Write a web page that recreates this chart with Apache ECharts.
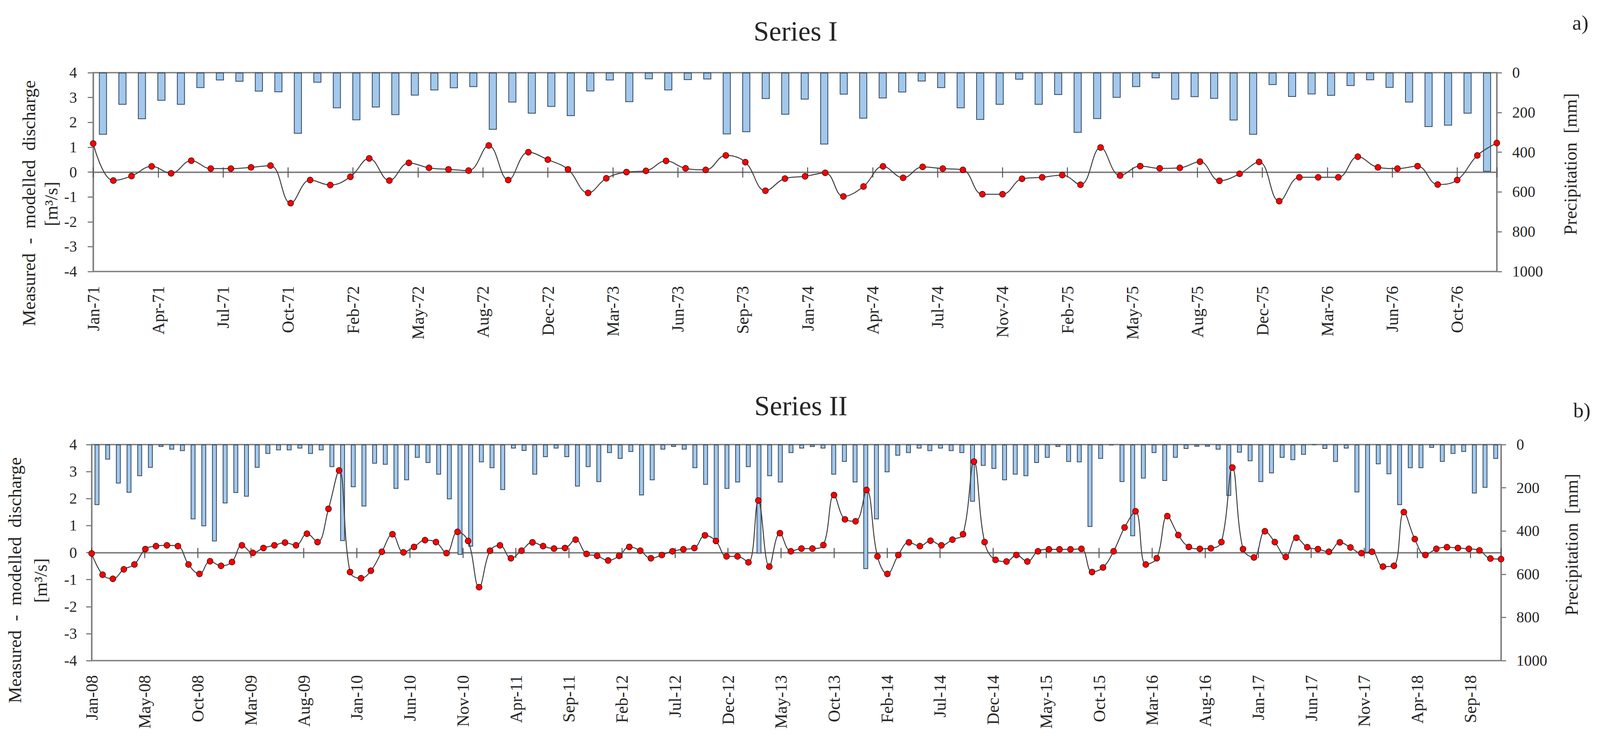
<!DOCTYPE html>
<html>
<head>
<meta charset="utf-8">
<script src="https://cdn.jsdelivr.net/npm/echarts@6/dist/echarts.min.js"></script>
<style>
html,body{margin:0;padding:0;background:#ffffff;overflow:hidden;}
#chart{width:100vw;height:100vh;}
</style>
</head>
<body>
<div id="chart"></div>
<script>
// ---------------- DATA ----------------
// Series I : monthly, Jan-1971 .. Dec-1976
const startI = [1971, 0];
const dischargeI = [
  1.15, -0.34, -0.16, 0.23, -0.05, 0.46, 0.14, 0.14, 0.19, 0.26, -1.25, -0.32,
  -0.52, -0.19, 0.55, -0.34, 0.37, 0.17, 0.11, 0.06, 1.07, -0.32, 0.80, 0.50,
  0.11, -0.84, -0.25, 0.00, 0.05, 0.45, 0.15, 0.09, 0.67, 0.40, -0.75, -0.26,
  -0.17, -0.03, -0.98, -0.58, 0.23, -0.23, 0.21, 0.14, 0.09, -0.89, -0.89, -0.27,
  -0.21, -0.12, -0.51, 0.99, -0.14, 0.24, 0.15, 0.17, 0.42, -0.35, -0.07, 0.41,
  -1.17, -0.21, -0.21, -0.21, 0.62, 0.19, 0.14, 0.24, -0.50, -0.32, 0.67, 1.17
];
const precipI = [
  312, 161, 234, 141, 161, 77, 39, 45, 95, 98, 307, 50,
  179, 239, 175, 213, 115, 89, 78, 72, 287, 150, 206, 172,
  218, 94, 39, 148, 33, 89, 37, 34, 310, 299, 132, 211,
  135, 361, 110, 231, 129, 99, 44, 77, 179, 237, 161, 35,
  161, 112, 302, 233, 126, 72, 28, 135, 123, 131, 240, 312,
  62, 122, 109, 116, 67, 38, 76, 150, 273, 266, 206, 498
];
const tickLabelsI = ['Jan-71','Apr-71','Jul-71','Oct-71','Feb-72','May-72','Aug-72','Dec-72',
  'Mar-73','Jun-73','Sep-73','Jan-74','Apr-74','Jul-74','Nov-74','Feb-75','May-75','Aug-75',
  'Dec-75','Mar-76','Jun-76','Oct-76'];
const tickStepDaysI = 100;

// Series II : monthly, Jan-2008 .. Dec-2018
const startII = [2008, 0];
const dischargeII = [
  -0.03, -0.82, -0.97, -0.62, -0.44, 0.13, 0.24, 0.27, 0.24, -0.44, -0.79, -0.32,
  -0.49, -0.35, 0.27, -0.01, 0.17, 0.27, 0.37, 0.27, 0.70, 0.39, 1.62, 3.04,
  -0.72, -0.95, -0.67, 0.03, 0.68, 0.01, 0.21, 0.46, 0.39, -0.02, 0.77, 0.43,
  -1.28, 0.07, 0.27, -0.21, 0.07, 0.38, 0.24, 0.15, 0.17, 0.48, -0.05, -0.12,
  -0.29, -0.12, 0.21, 0.07, -0.21, -0.09, 0.05, 0.12, 0.17, 0.64, 0.43, -0.14,
  -0.14, -0.36, 1.93, -0.52, 0.72, 0.05, 0.15, 0.15, 0.28, 2.13, 1.23, 1.16,
  2.32, -0.14, -0.79, -0.09, 0.38, 0.24, 0.44, 0.27, 0.48, 0.68, 3.37, 0.39,
  -0.27, -0.33, -0.09, -0.33, 0.05, 0.12, 0.12, 0.12, 0.14, -0.72, -0.55, 0.05,
  0.93, 1.53, -0.44, -0.21, 1.35, 0.65, 0.21, 0.14, 0.16, 0.39, 3.15, 0.13,
  -0.18, 0.79, 0.39, -0.16, 0.55, 0.20, 0.13, 0.03, 0.38, 0.19, -0.02, 0.03,
  -0.52, -0.49, 1.50, 0.50, -0.09, 0.14, 0.20, 0.17, 0.14, 0.08, -0.22, -0.24
];
const precipII = [
  280, 69, 180, 223, 146, 107, 11, 23, 30, 346, 378, 448,
  272, 224, 241, 107, 43, 26, 26, 18, 43, 26, 104, 446,
  197, 286, 88, 93, 205, 165, 61, 85, 139, 253, 510, 472,
  82, 109, 210, 18, 29, 139, 58, 18, 58, 194, 104, 173,
  39, 66, 34, 235, 165, 23, 11, 23, 109, 186, 440, 205,
  175, 104, 504, 146, 175, 39, 18, 11, 18, 139, 80, 175,
  576, 346, 128, 51, 39, 18, 30, 18, 30, 39, 264, 98,
  112, 165, 139, 146, 85, 61, 11, 80, 82, 381, 66, 4,
  173, 424, 157, 39, 168, 61, 20, 10, 10, 23, 237, 37,
  77, 173, 133, 61, 72, 47, 2, 20, 80, 18, 221, 504,
  91, 137, 280, 109, 109, 15, 80, 43, 34, 226, 200, 66
];
const tickLabelsII = ['Jan-08','May-08','Oct-08','Mar-09','Aug-09','Jan-10','Jun-10','Nov-10',
  'Apr-11','Sep-11','Feb-12','Jul-12','Dec-12','May-13','Oct-13','Feb-14','Jul-14','Dec-14',
  'May-15','Oct-15','Mar-16','Aug-16','Jan-17','Jun-17','Nov-17','Apr-18','Sep-18'];
const tickStepDaysII = 150;

const MONTHS = ['Jan','Feb','Mar','Apr','May','Jun','Jul','Aug','Sep','Oct','Nov','Dec'];

// ---------------- HELPERS ----------------
function dayOffsets(start, n) {
  const base = Date.UTC(start[0], start[1], 1);
  const out = [];
  for (let i = 0; i < n; i++) out.push((Date.UTC(start[0], start[1] + i, 1) - base) / 86400000);
  return out;
}
function monthNames(start, n) {
  const out = [];
  for (let i = 0; i < n; i++) {
    const d = new Date(Date.UTC(start[0], start[1] + i, 1));
    out.push(MONTHS[d.getUTCMonth()] + '-' + String(d.getUTCFullYear()).slice(2));
  }
  return out;
}

// layout is designed on a 4155 x 1907 canvas and scaled to the real viewport
const el = document.getElementById('chart');
const VW = el.clientWidth || window.innerWidth || 4155;
const VH = el.clientHeight || window.innerHeight || 1907;
const SX = VW / 4155, SY = VH / 1907, SF = Math.min(SX, SY);
const X = (v) => v * SX, Y = (v) => v * SY, F = (v) => v * SF;

const FONT = '"Liberation Serif", "Times New Roman", serif';
const TXT = '#262626';
const AX = '#7f7f7f';

const daysI = dayOffsets(startI, dischargeI.length);
const daysII = dayOffsets(startII, dischargeII.length);
const catsI = monthNames(startI, precipI.length);
const catsII = monthNames(startII, precipII.length);

const panels = [
  {days: daysI, q: dischargeI, p: precipI, cats: catsI, ticks: tickLabelsI, step: tickStepDaysI,
   grid: {left: X(242), right: X(268), top: Y(186), height: Y(509)}, leftMargin: X(42), barW: '41%'},
  {days: daysII, q: dischargeII, p: precipII, cats: catsII, ticks: tickLabelsII, step: tickStepDaysII,
   grid: {left: X(238), right: X(257), top: Y(1138), height: Y(553)}, leftMargin: X(38), barW: '45%'}
];

const grids = [], xAxes = [], yAxes = [], series = [];
panels.forEach((pn, g) => {
  grids.push(Object.assign({show: true, borderColor: AX, borderWidth: 3.5, backgroundColor: 'transparent',
    containLabel: false, outerBoundsMode: 'none'}, pn.grid));
  const maxDay = pn.days[pn.days.length - 1];
  const xBase = g * 4, yBase = g * 2;
  // labels along the bottom of the plot
  xAxes.push({type: 'value', gridIndex: g, min: 0, max: maxDay, interval: pn.step, position: 'bottom',
    axisLine: {show: false, onZero: false}, axisTick: {show: false}, splitLine: {show: false},
    axisLabel: {show: true, rotate: 90, margin: Y(37), fontFamily: FONT, fontSize: F(44), color: TXT,
      showMaxLabel: false, showMinLabel: true,
      formatter: (v) => { const k = Math.round(v / pn.step); return (Math.abs(v - k * pn.step) < 1e-6 && pn.ticks[k]) ? pn.ticks[k] : ''; }}});
  // zero line with ticks pointing up
  xAxes.push({type: 'value', gridIndex: g, min: 0, max: maxDay, interval: pn.step, position: 'bottom',
    axisLine: {show: true, onZero: true, onZeroAxisIndex: yBase, lineStyle: {color: AX, width: 3.5}},
    axisTick: {show: true, inside: true, length: 12, lineStyle: {color: '#555', width: 2.5}},
    axisLabel: {show: false}, splitLine: {show: false}});
  // zero line with ticks pointing down
  xAxes.push({type: 'value', gridIndex: g, min: 0, max: maxDay, interval: pn.step, position: 'bottom',
    axisLine: {show: true, onZero: true, onZeroAxisIndex: yBase, lineStyle: {color: AX, width: 3.5}},
    axisTick: {show: true, inside: false, length: 14, lineStyle: {color: '#555', width: 2.5}},
    axisLabel: {show: false}, splitLine: {show: false}});
  // category axis for the monthly precipitation bars
  xAxes.push({type: 'category', gridIndex: g, data: pn.cats, boundaryGap: true, show: false, position: 'top'});

  yAxes.push({type: 'value', gridIndex: g, position: 'left', min: -4, max: 4, interval: 1,
    axisLine: {show: true, onZero: false, lineStyle: {color: AX, width: 3.5}},
    axisTick: {show: true, inside: false, length: 14, lineStyle: {color: AX, width: 3}},
    splitLine: {show: false},
    axisLabel: {margin: pn.leftMargin, fontFamily: FONT, fontSize: F(40), color: TXT}});
  yAxes.push({type: 'value', gridIndex: g, position: 'right', min: 0, max: 1000, interval: 200, inverse: true,
    axisLine: {show: true, onZero: false, lineStyle: {color: AX, width: 3.5}},
    axisTick: {show: true, inside: false, length: 13, lineStyle: {color: AX, width: 3}},
    splitLine: {show: false},
    axisLabel: {margin: X(40), fontFamily: FONT, fontSize: F(40), color: TXT, formatter: (v) => String(v)}});

  series.push({type: 'bar', xAxisIndex: xBase + 3, yAxisIndex: yBase + 1, data: pn.p, barWidth: pn.barW,
    itemStyle: {color: '#a3c8ec', borderColor: '#34485e', borderWidth: 2}, z: 2, silent: true, animation: false});
  series.push({type: 'line', xAxisIndex: xBase, yAxisIndex: yBase,
    data: pn.days.map((d, i) => [d, pn.q[i]]), smooth: 0.4,
    symbol: 'circle', symbolSize: 15, showAllSymbol: true,
    lineStyle: {color: '#404040', width: 2.5},
    itemStyle: {color: '#ff0000', borderColor: '#4a0000', borderWidth: 1.5}, z: 4, animation: false});
});

function txt(x, y, text, size, rot) {
  return {type: 'text', x: X(x), y: Y(y), rotation: rot || 0, z: 10,
    style: {text: text, font: F(size) + 'px ' + FONT, fill: TXT,
      align: 'center', verticalAlign: 'middle', textAlign: 'center', textVerticalAlign: 'middle'}};
}
const R = Math.PI / 2;
const graphics = [
  txt(2066, 80, 'Series I', 72),
  txt(4104, 58, 'a)', 54),
  txt(2080, 1039, 'Series II', 72),
  txt(4108, 1050, 'b)', 54),
  txt(75, 520, 'Measured  -  modelled  discharge', 48, R),
  txt(133, 522, '[m³/s]', 48, R),
  txt(4078, 420, 'Precipitation  [mm]', 47, R),
  txt(39, 1485, 'Measured  -  modelled  discharge', 48, R),
  txt(106, 1486, '[m³/s]', 48, R),
  txt(4081, 1394, 'Precipitation  [mm]', 47, R)
];

const chart = echarts.init(el, null, {renderer: 'svg'});
chart.setOption({
  backgroundColor: '#ffffff',
  animation: false,
  grid: grids,
  xAxis: xAxes,
  yAxis: yAxes,
  series: series,
  graphic: graphics
});
</script>
</body>
</html>
